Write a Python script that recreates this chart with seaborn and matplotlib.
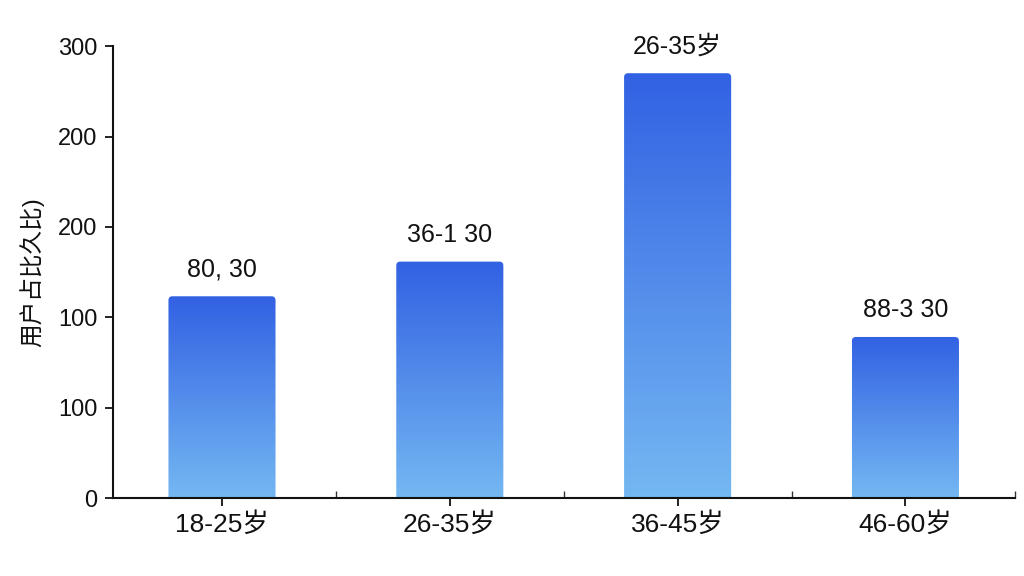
import numpy as np
import pandas as pd
import matplotlib
matplotlib.use("Agg")
import matplotlib.pyplot as plt
from matplotlib.patches import FancyBboxPatch
from matplotlib.colors import LinearSegmentedColormap
import seaborn as sns

# data
age_groups = ["18-25岁", "26-35岁", "36-45岁", "46-60岁"]
user_counts = [134, 157, 282, 107]
bar_labels = ["80, 30", "36-1 30", "26-35岁", "88-3 30"]
ytick_vals = [0, 60, 120, 180, 240, 300]
ytick_labels = ["0", "100", "100", "200", "200", "300"]
ylabel = "用户占比久比)"

sns.set_theme(style="white")
plt.rcParams['font.family'] = ['Liberation Sans', 'Noto Sans CJK SC', 'DejaVu Sans']

df = pd.DataFrame({"age": age_groups, "n": user_counts})

fig = plt.figure(figsize=(10.24, 5.76), dpi=100)
ax = fig.add_axes([0.110, 0.135, 0.881, 0.785])

sns.barplot(data=df, x="age", y="n", ax=ax, width=0.47, color="#4a85e8")

ax.set_xlim(-0.48, 3.48)
ax.set_ylim(0, 300)

# gradient fill with slightly rounded tops
cmap = LinearSegmentedColormap.from_list("blu", ["#74b8f2", "#3261e3"])
grad = np.linspace(0, 1, 256).reshape(-1, 1)
xpx = 0.881 * 1024 / 4.0
ypx = 0.785 * 576 / 300.0
aspect = xpx / ypx
for p in list(ax.patches):
    x0, w, h = p.get_x(), p.get_width(), p.get_height()
    r = 4 / xpx
    clip = FancyBboxPatch((x0, -5), w, h + 5,
                          boxstyle=f"round,pad=0,rounding_size={r}",
                          mutation_aspect=aspect,
                          transform=ax.transData, facecolor="none", edgecolor="none")
    ax.add_patch(clip)
    im = ax.imshow(grad, cmap=cmap, origin="lower", aspect="auto",
                   extent=(x0, x0 + w, 0, h), zorder=2)
    im.set_clip_path(clip)
    p.set_visible(False)
ax.set_xlim(-0.48, 3.48)
ax.set_ylim(0, 300)

for i, (v, lab) in enumerate(zip(user_counts, bar_labels)):
    ax.text(i, v + 10, lab, ha="center", va="bottom", fontsize=18, color="#111111")

ax.set_yticks(ytick_vals)
ax.set_yticklabels(ytick_labels)
ax.set_xlabel("")
ax.set_ylabel(ylabel, fontsize=17, color="#111111", labelpad=10)

for s in ["top", "right"]:
    ax.spines[s].set_visible(False)
for s in ["left", "bottom"]:
    ax.spines[s].set_color("#111111")
    ax.spines[s].set_linewidth(1.5)

ax.tick_params(axis="y", length=6, width=1.3, color="#111111", labelsize=17,
               labelcolor="#111111", left=True, pad=5)
ax.tick_params(axis="x", length=6, width=1.3, color="#111111", labelsize=19,
               labelcolor="#111111", bottom=True, pad=4)
ax.set_xticks([0.5, 1.5, 2.5, 3.48], minor=True)
ax.tick_params(axis="x", which="minor", direction="in", length=5, width=1,
               color="#333333", bottom=True)

fig.savefig("out.png", dpi=100, facecolor="white")
